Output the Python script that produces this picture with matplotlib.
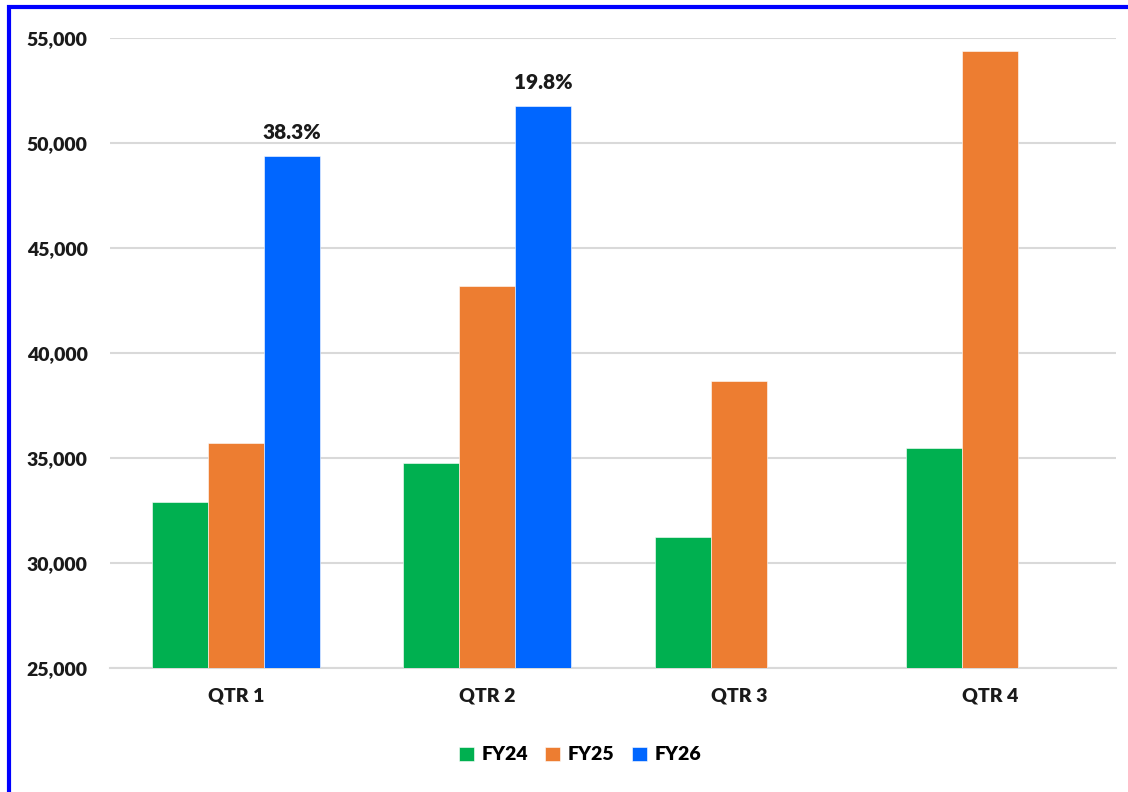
import matplotlib.pyplot as plt
from matplotlib.patches import Rectangle
import numpy as np

# Quarterly values
quarters = ['QTR 1', 'QTR 2', 'QTR 3', 'QTR 4']
fy24 = [32900, 34760, 31240, 35480]
fy25 = [35710, 43190, 38670, 54380]
fy26 = [49380, 51760, np.nan, np.nan]
growth_labels = ['38.3%', '19.8%']

plt.rcParams['font.family'] = ['Lato', 'DejaVu Sans']
plt.rcParams['font.weight'] = 'heavy'

fig = plt.figure(figsize=(11.28, 7.92), dpi=100)
ax = fig.add_axes([110 / 1128, 1 - 668 / 792, 1006 / 1128, 630 / 792])

x = np.arange(len(quarters))
w = 0.223
ax.bar(x - w, fy24, w, color='#00b050', edgecolor='white', linewidth=0.4, label='FY24', zorder=3)
ax.bar(x, fy25, w, color='#ed7d31', edgecolor='white', linewidth=0.4, label='FY25', zorder=3)
ax.bar(x + w, fy26, w, color='#0066ff', edgecolor='white', linewidth=0.4, label='FY26', zorder=3)

for i, txt in enumerate(growth_labels):
    ax.annotate(txt, (x[i] + w, fy26[i]), xytext=(0, 10), textcoords='offset points',
                ha='center', va='bottom', fontsize=15, color='#1a1a1a')

ax.set_xlim(-0.5, 3.5)
ax.set_ylim(25000, 55000)
ax.set_yticks(range(25000, 55001, 5000))
ax.set_yticklabels([f'{v:,}' for v in range(25000, 55001, 5000)])
ax.set_xticks(x)
ax.set_xticklabels(quarters)
ax.tick_params(axis='both', length=0, labelsize=14, colors='#1a1a1a')
ax.tick_params(axis='y', pad=16)
ax.tick_params(axis='x', pad=14)
ax.grid(axis='y', color='#d9d9d9', linewidth=1.5, zorder=0)
for s in ['top', 'right', 'left']:
    ax.spines[s].set_visible(False)
ax.spines['bottom'].set_color('#d9d9d9')
ax.spines['bottom'].set_linewidth(1.5)

fig.legend(loc='center', bbox_to_anchor=(580 / 1128, 1 - 755 / 792), ncol=3, frameon=False,
           fontsize=14, handlelength=0.75, handleheight=0.75, handletextpad=0.4, columnspacing=0.9)

# blue frame around the chart
fig.patches.append(Rectangle((9 / 1128, -0.1), 1.2, 1 - 7 / 792 + 0.1, transform=fig.transFigure,
                             fill=False, edgecolor='#0000ff', linewidth=3))

fig.savefig('out.png', dpi=100)
